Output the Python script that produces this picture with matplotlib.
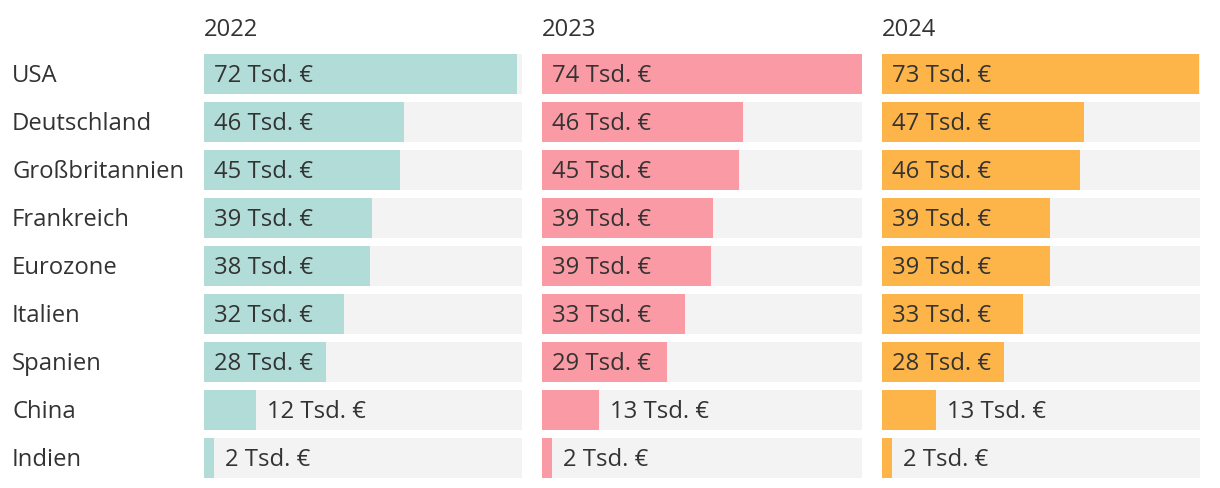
import matplotlib
matplotlib.use("Agg")
import matplotlib.pyplot as plt
from matplotlib.transforms import blended_transform_factory, offset_copy

plt.rcParams['font.family'] = ['Open Sans', 'DejaVu Sans']

# Data (Tsd. Euro)
countries = ["USA", "Deutschland", "Großbritannien", "Frankreich", "Eurozone",
             "Italien", "Spanien", "China", "Indien"]
years = ["2022", "2023", "2024"]
values_2022 = [72.4, 46.3, 45.4, 38.9, 38.4, 32.4, 28.2, 12.0, 2.3]
values_2023 = [73.6, 46.3, 45.4, 39.3, 38.9, 32.9, 28.7, 13.0, 2.4]
values_2024 = [73.4, 46.8, 45.8, 38.9, 38.9, 32.6, 28.2, 12.6, 2.3]
colors = ["#b2dcd8", "#f99aa4", "#fdb449"]

series = [values_2022, values_2023, values_2024]
XMAX = 73.6
W, H = 1220, 488
TEXT = "#333333"
FS = 17.2

fig = plt.figure(figsize=(W / 100, H / 100), dpi=100)

panel_left = [204, 542, 882]
panel_width = [318, 320, 318]
top_px, bottom_px = 50, 482

for k, (vals, year, col) in enumerate(zip(series, years, colors)):
    ax = fig.add_axes([panel_left[k] / W, (H - bottom_px) / H,
                       panel_width[k] / W, (bottom_px - top_px) / H])
    y = list(range(len(countries)))
    ax.barh(y, [XMAX] * len(y), height=0.833, color="#f3f3f3", linewidth=0)
    ax.barh(y, vals, height=0.833, color=col, linewidth=0)
    ax.set_xlim(0, XMAX)
    ax.set_ylim(len(countries) - 0.5, -0.5)
    ax.axis("off")

    # shift text baseline slightly below the row centre
    tdata = offset_copy(ax.transData, fig=fig, x=0, y=-1.5, units="dots")
    px = XMAX / panel_width[k]
    for i, v in enumerate(vals):
        label = f"{round(v)} Tsd. €"
        xpos = 10 * px if v > 20 else v + 11 * px
        ax.text(xpos, i, label, va="center", ha="left", transform=tdata,
                fontsize=FS, color=TEXT)

    fig.text(panel_left[k] / W, 1 - 36 / H, year, va="baseline", ha="left",
             fontsize=FS, color=TEXT)

    if k == 0:
        tr = offset_copy(blended_transform_factory(fig.transFigure, ax.transData),
                         fig=fig, x=0, y=-1.5, units="dots")
        for i, c in enumerate(countries):
            ax.text(12 / W, i, c, transform=tr, va="center", ha="left",
                    fontsize=FS, color=TEXT)

fig.savefig("out.png", dpi=100)
